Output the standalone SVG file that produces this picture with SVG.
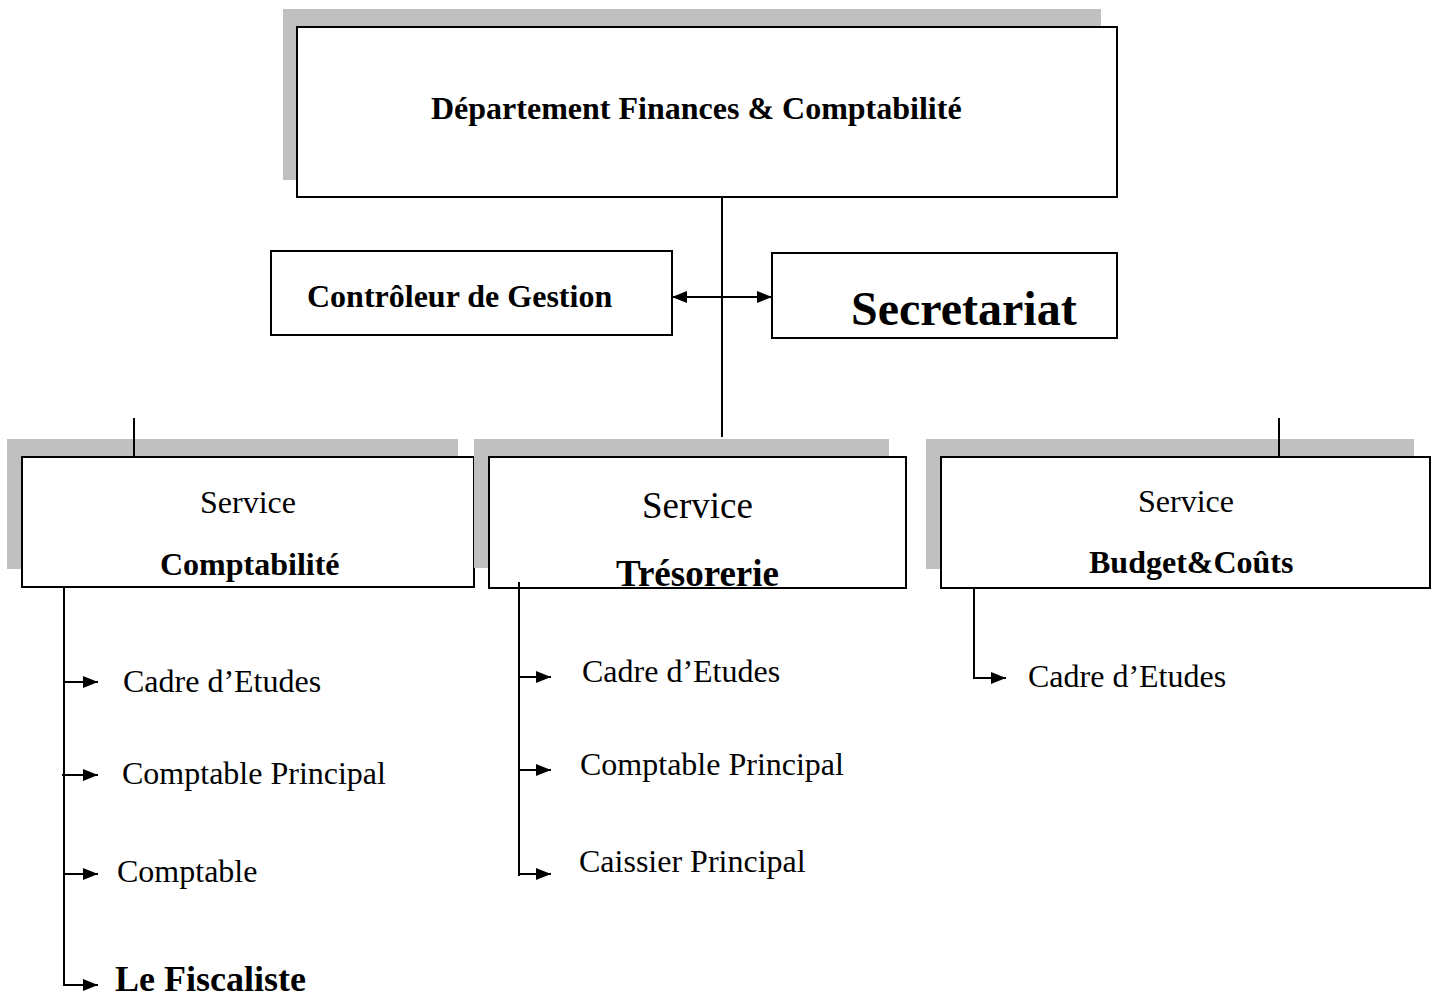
<svg xmlns="http://www.w3.org/2000/svg" width="1434" height="998" viewBox="0 0 1434 998">
<style>
.shadow{fill:#c0c0c0;stroke:none}
.box{fill:#fff;stroke:#000;stroke-width:2}
.t{font-family:"Liberation Serif","Times New Roman",serif;fill:#000}
.b{font-weight:bold}
.ln{stroke:#000;stroke-width:2;fill:none}
</style>
<defs>
<marker id="ah" markerUnits="userSpaceOnUse" markerWidth="16" markerHeight="14" refX="15" refY="7" orient="auto-start-reverse">
<path d="M0,1 L15,7 L0,13 z" fill="#000"/>
</marker>
</defs>
<rect width="1434" height="998" fill="#fff"/>
<g id="dept">
<rect class="shadow" x="283" y="9" width="818" height="171"/>
<rect class="box" x="297" y="27" width="820" height="170"/>
<text class="t b" x="431" y="119" font-size="32">Département Finances &amp; Comptabilité</text>
</g>
<g id="controleur">
<rect class="box" x="271" y="251" width="401" height="84"/>
<text class="t b" x="307" y="307" font-size="32">Contrôleur de Gestion</text>
</g>
<g id="secretariat">
<rect class="box" x="772" y="253" width="345" height="85"/>
<text class="t b" x="851" y="325" font-size="48">Secretariat</text>
</g>
<g id="svc-comptabilite">
<rect class="shadow" x="7" y="439" width="451" height="130"/>
<rect class="box" x="22" y="457" width="452" height="130"/>
<text class="t" x="200" y="513" font-size="32">Service</text>
<text class="t b" x="160" y="575" font-size="32">Comptabilité</text>
</g>
<g id="svc-tresorerie">
<rect class="shadow" x="474" y="439" width="415" height="129"/>
<rect class="box" x="489" y="457" width="417" height="131"/>
<text class="t" x="642" y="518" font-size="37">Service</text>
<text class="t b" x="616" y="586" font-size="37">Trésorerie</text>
</g>
<g id="svc-budget">
<rect class="shadow" x="926" y="439" width="488" height="130"/>
<rect class="box" x="941" y="457" width="489" height="131"/>
<text class="t" x="1138" y="512" font-size="32">Service</text>
<text class="t b" x="1089" y="573" font-size="32">Budget&amp;Coûts</text>
</g>
<g id="items-comptabilite">
<text class="t" x="123" y="692" font-size="32">Cadre d’Etudes</text>
<text class="t" x="122" y="784" font-size="32">Comptable Principal</text>
<text class="t" x="117" y="882" font-size="32">Comptable</text>
<text class="t b" x="115" y="991" font-size="36">Le Fiscaliste</text>
</g>
<g id="items-tresorerie">
<text class="t" x="582" y="682" font-size="32">Cadre d’Etudes</text>
<text class="t" x="580" y="775" font-size="32">Comptable Principal</text>
<text class="t" x="579" y="872" font-size="32">Caissier Principal</text>
</g>
<g id="items-budget">
<text class="t" x="1028" y="687" font-size="32">Cadre d’Etudes</text>
</g>
<g id="connectors">
<line class="ln" x1="722" y1="197" x2="722" y2="437"/>
<line class="ln" x1="672" y1="297" x2="772" y2="297" marker-start="url(#ah)" marker-end="url(#ah)"/>
<line class="ln" x1="134" y1="418" x2="134" y2="457"/>
<line class="ln" x1="1279" y1="418" x2="1279" y2="457"/>
<line class="ln" x1="64" y1="588" x2="64" y2="985"/>
<line class="ln" x1="64" y1="682" x2="98" y2="682" marker-end="url(#ah)"/>
<line class="ln" x1="62" y1="775" x2="98" y2="775" marker-end="url(#ah)"/>
<line class="ln" x1="64" y1="874" x2="98" y2="874" marker-end="url(#ah)"/>
<line class="ln" x1="63" y1="985" x2="98" y2="985" marker-end="url(#ah)"/>
<line class="ln" x1="519" y1="582" x2="519" y2="876"/>
<line class="ln" x1="519" y1="677" x2="551" y2="677" marker-end="url(#ah)"/>
<line class="ln" x1="519" y1="770" x2="551" y2="770" marker-end="url(#ah)"/>
<line class="ln" x1="519" y1="874" x2="551" y2="874" marker-end="url(#ah)"/>
<line class="ln" x1="974" y1="588" x2="974" y2="679"/>
<line class="ln" x1="973" y1="678" x2="1006" y2="678" marker-end="url(#ah)"/>
</g>
</svg>
